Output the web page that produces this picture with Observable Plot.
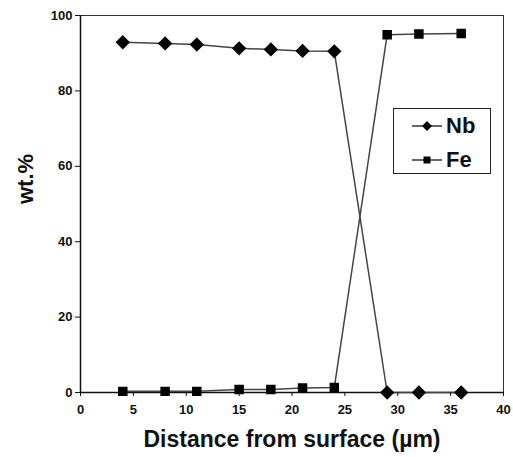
<!DOCTYPE html>
<html>
<head>
<meta charset="utf-8">
<script src="https://cdn.jsdelivr.net/npm/d3@7"></script>
<script src="https://cdn.jsdelivr.net/npm/@observablehq/plot@0.6"></script>
<style>
  html, body { margin: 0; padding: 0; background: #fff; }
  #wrap { position: relative; width: 513px; height: 457px; font-family: "Liberation Sans", Arial, sans-serif; }
  #legend { position: absolute; left: 393px; top: 108px; width: 98px; height: 66px; border: 1.5px solid #222; background: #fff; box-sizing: border-box; }
  .item { position: absolute; left: 18px; height: 24px; line-height: 24px; display: flex; align-items: center; font-weight: bold; font-size: 22px; color: #111; }
  .item svg { margin-right: 4px; }
</style>
</head>
<body>
<div id="wrap"></div>
<script>
const distance = [4, 8, 11, 15, 18, 21, 24, 29, 32, 36];
const nb = [92.9, 92.6, 92.3, 91.3, 91.0, 90.6, 90.5, 0, 0, 0];
const fe = [0.3, 0.3, 0.3, 0.8, 0.8, 1.2, 1.3, 94.9, 95.1, 95.2];
const seriesNames = ["Nb", "Fe"];
const xTicks = [0, 5, 10, 15, 20, 25, 30, 35, 40];
const yTicks = [0, 20, 40, 60, 80, 100];

const data = [];
distance.forEach((d, i) => {
  data.push({x: d, y: nb[i], s: seriesNames[0]});
  data.push({x: d, y: fe[i], s: seriesNames[1]});
});
const nbData = data.filter(d => d.s === "Nb");
const feData = data.filter(d => d.s === "Fe");

const chart = Plot.plot({
  width: 513,
  height: 457,
  marginLeft: 80,
  marginRight: 10,
  marginTop: 15,
  marginBottom: 65,
  style: {fontFamily: "'Liberation Sans', Arial, sans-serif", fontSize: "13px", fontWeight: "bold", color: "#111", background: "#fff"},
  x: {domain: [0, 40], ticks: xTicks, tickSize: 4, tickPadding: 8, label: null},
  y: {domain: [0, 100], ticks: yTicks, tickSize: 5, tickPadding: 3, label: null},
  marks: [
    Plot.frame({stroke: "#333", strokeWidth: 1}),
    Plot.ruleX([0], {stroke: "#111", strokeWidth: 1.5}),
    Plot.ruleY([0], {stroke: "#111", strokeWidth: 1.5}),
    Plot.line(nbData, {x: "x", y: "y", stroke: "#444", strokeWidth: 1.5}),
    Plot.line(feData, {x: "x", y: "y", stroke: "#444", strokeWidth: 1.5}),
    Plot.dot(nbData, {x: "x", y: "y", symbol: "diamond2", r: 5.5, fill: "#000", stroke: "#000"}),
    Plot.dot(feData, {x: "x", y: "y", symbol: "square", r: 4.5, fill: "#000", stroke: "#000"}),
    Plot.axisY({ticks: yTicks, tickSize: 5, tickPadding: 3, label: null, fontSize: 13}),
    Plot.axisX({ticks: xTicks, tickSize: 4, tickPadding: 8, label: null, fontSize: 13}),
    Plot.text(["Distance from surface (µm)"], {frameAnchor: "bottom", dy: 54, fontSize: 23, fontWeight: "bold", fill: "#111"}),
    Plot.text(["wt.%"], {frameAnchor: "left", dx: -55, rotate: -90, fontSize: 22, fontWeight: "bold", fill: "#111"})
  ]
});
const wrap = document.getElementById("wrap");
wrap.appendChild(chart);

const legend = document.createElement("div");
legend.id = "legend";
legend.innerHTML = `
  <div class="item" style="top:5px"><svg width="30" height="14"><line x1="0" y1="7" x2="30" y2="7" stroke="#333" stroke-width="1.5"/><path d="M15,2 L20,7 L15,12 L10,7 Z" fill="#000"/></svg>${seriesNames[0]}</div>
  <div class="item" style="top:39px"><svg width="30" height="14"><line x1="0" y1="7" x2="30" y2="7" stroke="#333" stroke-width="1.5"/><rect x="11.5" y="3.5" width="7" height="7" fill="#000"/></svg>${seriesNames[1]}</div>`;
wrap.appendChild(legend);
</script>
</body>
</html>
